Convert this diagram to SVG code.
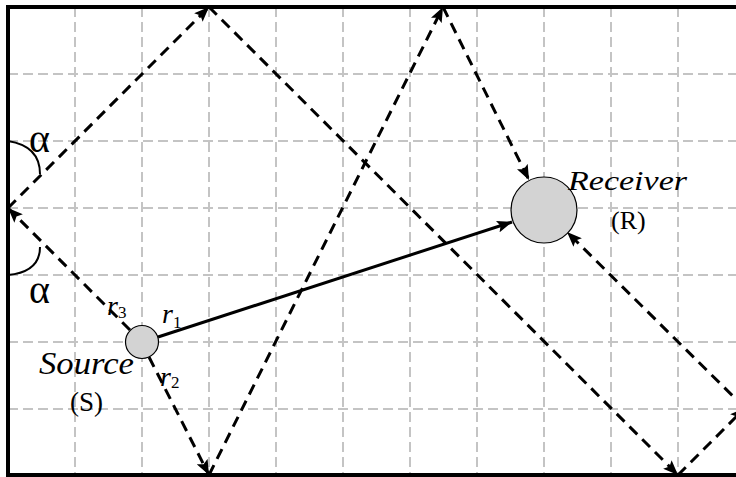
<svg xmlns="http://www.w3.org/2000/svg" width="736" height="477" viewBox="0 0 736 477">
<style>
.grid{stroke:#c4c4c4;stroke-width:2;stroke-dasharray:10,5;fill:none}
.ray{stroke:#000;stroke-width:3;stroke-dasharray:11,7;fill:none;marker-end:url(#ah)}
.direct{stroke:#000;stroke-width:3;fill:none;marker-end:url(#ah)}
.node{fill:#d3d3d3;stroke:#000;stroke-width:1.2}
.lbl{font-family:"Liberation Serif","Times New Roman",serif;fill:#000}
.it{font-style:italic}
.arc{stroke:#000;stroke-width:2;fill:none}
</style>
<defs>
<marker id="ah" markerUnits="userSpaceOnUse" markerWidth="16" markerHeight="12" refX="15" refY="6" orient="auto" viewBox="0 0 16 12">
<path d="M0,0 L15,6 L0,12 L3,6 z" fill="#000"/>
</marker>
</defs>
<rect width="736" height="477" fill="#fff"/>
<g id="grid">
<path class="grid" d="M75,7V475M142,7V475M209,7V475M276,7V475M343,7V475M410,7V475M477,7V475M544,7V475M611,7V475M678,7V475"/>
<path class="grid" d="M8,74H736M8,141H736M8,208H736M8,275H736M8,342H736M8,409H736"/>
</g>
<g id="walls">
<path d="M8,5V477M6,7H736M6,475H736" stroke="#000" stroke-width="4" fill="none"/>
</g>
<g id="connectors">
<line class="ray" x1="130" y1="330" x2="8" y2="208"/>
<line class="ray" x1="8" y1="208" x2="209" y2="7"/>
<line class="ray" x1="209" y1="7" x2="678" y2="475"/>
<line class="ray" x1="678" y1="475" x2="745" y2="408"/>
<line class="ray" x1="745" y1="408" x2="567" y2="232"/>
<line class="ray" x1="149" y1="357" x2="209" y2="475"/>
<line class="ray" x1="209" y1="475" x2="443" y2="7"/>
<line class="ray" x1="443" y1="7" x2="529" y2="180"/>
<line class="direct" x1="158" y1="337" x2="512" y2="222"/>
<path class="arc" d="M8,141 Q40,146 40,174"/>
<path class="arc" d="M40,247 Q40,272 8,275"/>
</g>
<g id="source">
<circle class="node" cx="142" cy="342" r="16.5"/>
<text class="lbl it" x="39" y="374" font-size="31" textLength="95" lengthAdjust="spacingAndGlyphs">Source</text>
<text class="lbl" x="70" y="411" font-size="27">(S)</text>
</g>
<g id="receiver">
<circle class="node" cx="544" cy="210" r="33"/>
<text class="lbl it" x="568" y="190" font-size="28" textLength="119" lengthAdjust="spacingAndGlyphs">Receiver</text>
<text class="lbl" x="611" y="229" font-size="26">(R)</text>
</g>
<g id="labels">
<text class="lbl" x="29" y="152" font-size="40">α</text>
<text class="lbl" x="29" y="303" font-size="40">α</text>
<text class="lbl it" x="107" y="315" font-size="28">r<tspan font-size="17" font-style="normal" dy="3">3</tspan></text>
<text class="lbl it" x="162" y="323" font-size="28">r<tspan font-size="17" font-style="normal" dy="5">1</tspan></text>
<text class="lbl it" x="160" y="386" font-size="28">r<tspan font-size="17" font-style="normal" dy="2">2</tspan></text>
</g>
</svg>
